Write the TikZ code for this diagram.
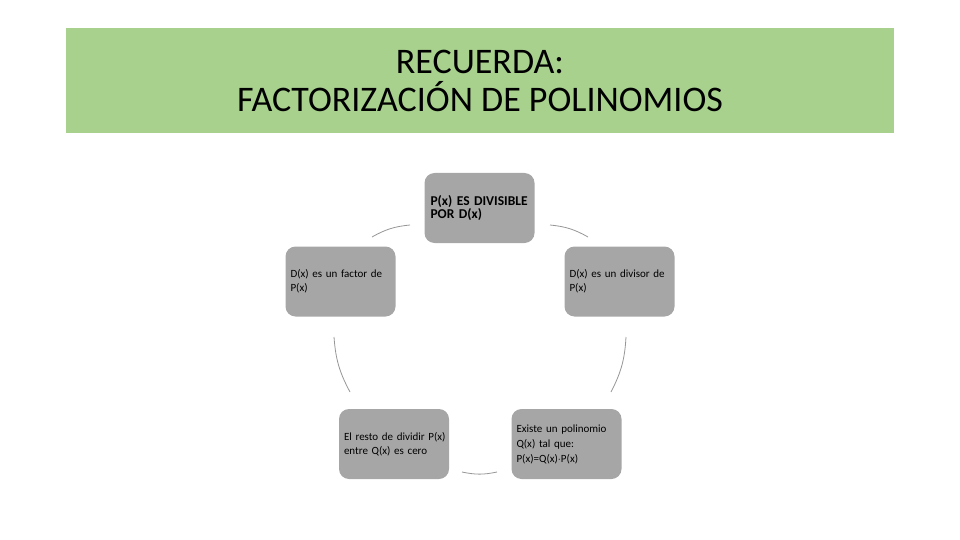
\documentclass[tikz,border=0pt]{standalone}
\usepackage{fontspec}
\setmainfont{Carlito}
\definecolor{banner}{RGB}{169,209,142}
\definecolor{boxgray}{RGB}{166,166,166}
\definecolor{arcgray}{RGB}{150,150,150}
\tikzset{
  box/.style={fill=boxgray, rounded corners=10pt, text width=106pt, minimum height=70pt,
    inner xsep=2pt, align=left, font=\fontsize{11}{14}\selectfont},
  cyclearc/.style={draw=arcgray, line width=0.8pt}
}
\begin{document}
\begin{tikzpicture}[x=1pt,y=-1pt]
    \useasboundingbox (0,0) rectangle (960,540);
    \fill[banner] (66,28) rectangle (894,133);
    \node[align=center, font=\fontsize{36}{38}\selectfont] (title) at (480,81)
        {RECUERDA:\\FACTORIZACIÓN DE POLINOMIOS};

    \node[box, font=\fontsize{13.5}{13.5}\bfseries] (div) at (479.5,208) {\hspace{4pt}P(x) ES DIVISIBLE\\\hspace{4pt}POR D(x)};
    \node[box] (fac) at (340.5,281.5) {\hspace{3pt}D(x) es un factor de\\\hspace{3pt}P(x)};
    \node[box] (dsr) at (619.5,281.5) {\hspace{3pt}D(x) es un divisor de\\\hspace{3pt}P(x)};
    \node[box] (rst) at (394,444) {\hspace{3pt}El resto de dividir P(x)\\\hspace{3pt}entre Q(x) es cero};
    \node[box, font=\fontsize{11}{15}\selectfont] (pol) at (566.5,444) {\hspace{3pt}Existe un polinomio\\\hspace{3pt}Q(x) tal que:\\\hspace{3pt}P(x)=Q(x)$\cdot$P(x)};

    \coordinate (a1) at (550,225);
    \coordinate (a2) at (588,237);
    \coordinate (b1) at (626,337);
    \coordinate (b2) at (611,392);
    \coordinate (c1) at (497,472);
    \coordinate (c2) at (462,472);
    \coordinate (d1) at (350,392);
    \coordinate (d2) at (334,337);
    \coordinate (e1) at (372,237);
    \coordinate (e2) at (410,225);
    \draw[cyclearc] (a1) to[bend left=12] (a2);
    \draw[cyclearc] (b1) to[bend left=12] (b2);
    \draw[cyclearc] (c1) to[bend left=12] (c2);
    \draw[cyclearc] (d1) to[bend left=12] (d2);
    \draw[cyclearc] (e1) to[bend left=12] (e2);
\end{tikzpicture}
\end{document}
